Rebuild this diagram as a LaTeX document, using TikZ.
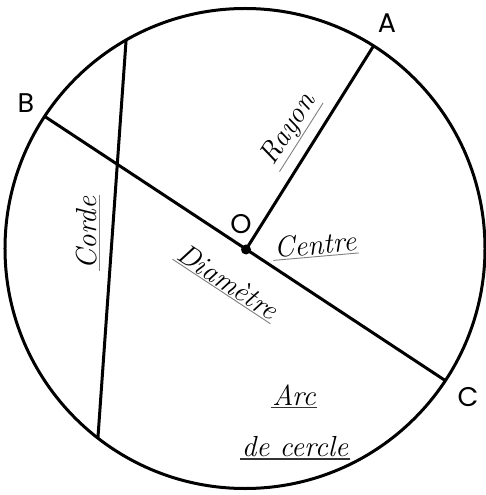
\documentclass[tikz,border=0pt]{standalone}
\usepackage{fontspec}
\newfontfamily\letterfont{Poppins}
\begin{document}
\begin{tikzpicture}[x=1pt,y=1pt,
  geo/.style={line width=3pt, black},
  ptlabel/.style={font=\letterfont\fontsize{27}{30}\selectfont, inner sep=0pt},
  ulline/.style={draw=gray, line width=0.9pt},
  ulinedark/.style={draw=black!80, line width=1.2pt},
  word/.style={font=\fontsize{29}{32}\selectfont\itshape, inner sep=1.5pt,
    append after command={(\tikzlastnode.south west) edge[ulline] (\tikzlastnode.south east)}},
  wordd/.style={font=\fontsize{29}{32}\selectfont\itshape, inner sep=1.5pt,
    append after command={(\tikzlastnode.south west) edge[ulinedark] (\tikzlastnode.south east)}},
  dot/.style={circle, fill=black, inner sep=0pt, minimum size=10pt}
]
\useasboundingbox[fill=white] (-245,-246.5) rectangle (240,248.5);

\coordinate (ctr) at (0,0);
\draw[geo] (ctr) circle[radius=240pt];

\coordinate (A) at (57.6:240);
\coordinate (B) at (146.6:240);
\coordinate (C) at (-33.4:240);
\coordinate (P) at (119.7:240);
\coordinate (Q) at (232.2:240);

\draw[geo] (B) -- (C);
\draw[geo] (P) -- (Q);
\node[dot] (O) at (1,-1) {};
\draw[geo] (O.center) -- (A);

\node[ptlabel] (lA) at (142,225.5) {A};
\node[ptlabel] (lB) at (-219,145.5) {B};
\node[ptlabel] (lC) at (223,-148.5) {C};
\node[ptlabel] (lO) at (-4,24.5) {O};

\node[word, rotate=57.6] (rayon) at (44,119) {Rayon};
\node[word, rotate=90] (corde) at (-158,15.5) {Corde};
\node[word, rotate=-33.4] (diam) at (-17,-33) {Diamètre};
\node[word, rotate=5] (centre) at (70,4) {Centre};
\node[wordd] (arc) at (49,-146.5) {Arc};
\node[wordd] (decercle) at (50,-198.5) {de cercle};
\end{tikzpicture}
\end{document}
